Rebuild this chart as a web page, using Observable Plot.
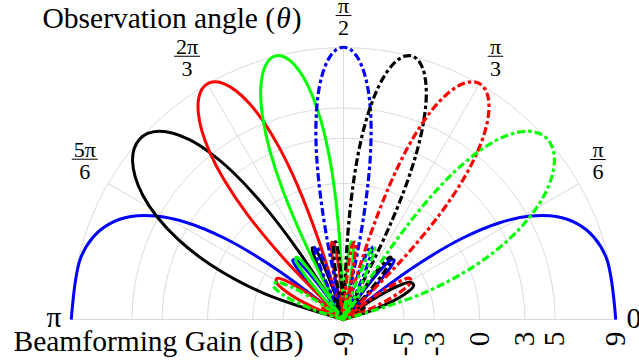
<!DOCTYPE html>
<html><head><meta charset="utf-8">
<script src="https://cdn.jsdelivr.net/npm/d3@7"></script>
<script src="https://cdn.jsdelivr.net/npm/@observablehq/plot@0.6"></script>
<style>
html,body{margin:0;padding:0;background:#fff;}
#chart{width:639px;height:360px;overflow:hidden;}
</style></head><body><div id="chart"></div>
<script>
// Sample positions: cos(theta) from -1 (theta = pi) to 1 (theta = 0)
const cosTheta = [-1,-0.975,-0.95,-0.925,-0.9,-0.875,-0.85,-0.825,-0.8,-0.775,
  -0.75,-0.725,-0.7,-0.675,-0.65,-0.625,-0.6,-0.575,-0.55,-0.525,
  -0.5,-0.475,-0.45,-0.425,-0.4,-0.375,-0.35,-0.325,-0.3,-0.275,
  -0.25,-0.225,-0.2,-0.175,-0.15,-0.125,-0.1,-0.075,-0.05,-0.025,
  0,0.025,0.05,0.075,0.1,0.125,0.15,0.175,0.2,0.225,
  0.25,0.275,0.3,0.325,0.35,0.375,0.4,0.425,0.45,0.475,
  0.5,0.525,0.55,0.575,0.6,0.625,0.65,0.675,0.7,0.725,
  0.75,0.775,0.8,0.825,0.85,0.875,0.9,0.925,0.95,0.975,1];

// Beamforming gain (dB, floor -9) of each beam at the samples above
const gainBlueSolid = [
  9.03, 8.89, 8.46, 7.72, 6.65, 5.16, 3.17, 0.46, -3.45, -9,
  -9, -9, -6.79, -4.65, -3.83, -3.93, -4.85, -6.71, -9, -9,
  -9, -9, -9, -8.77, -7.63, -7.43, -8.08, -9, -9, -9,
  -9, -9, -9, -9, -9, -8.86, -9, -9, -9, -9,
  -9, -9, -9, -9, -9, -8.86, -9, -9, -9, -9,
  -9, -9, -9, -9, -8.08, -7.43, -7.63, -8.77, -9, -9,
  -9, -9, -9, -6.71, -4.85, -3.93, -3.83, -4.65, -6.79, -9,
  -9, -9, -3.45, 0.46, 3.17, 5.16, 6.65, 7.72, 8.46, 8.89,
  9.03];
const gainBlackSolid = [
  -9, -9, -3.45, 0.46, 3.17, 5.16, 6.65, 7.72, 8.46, 8.89,
  9.03, 8.89, 8.46, 7.72, 6.65, 5.16, 3.17, 0.46, -3.45, -9,
  -9, -9, -6.79, -4.65, -3.83, -3.93, -4.85, -6.71, -9, -9,
  -9, -9, -9, -8.77, -7.63, -7.43, -8.08, -9, -9, -9,
  -9, -9, -9, -9, -9, -8.86, -9, -9, -9, -9,
  -9, -9, -9, -9, -9, -8.86, -9, -9, -9, -9,
  -9, -9, -9, -9, -8.08, -7.43, -7.63, -8.77, -9, -9,
  -9, -9, -9, -6.71, -4.85, -3.93, -3.83, -4.65, -6.79, -9,
  -9];
const gainRedSolid = [
  -9, -9, -9, -6.71, -4.85, -3.93, -3.83, -4.65, -6.79, -9,
  -9, -9, -3.45, 0.46, 3.17, 5.16, 6.65, 7.72, 8.46, 8.89,
  9.03, 8.89, 8.46, 7.72, 6.65, 5.16, 3.17, 0.46, -3.45, -9,
  -9, -9, -6.79, -4.65, -3.83, -3.93, -4.85, -6.71, -9, -9,
  -9, -9, -9, -8.77, -7.63, -7.43, -8.08, -9, -9, -9,
  -9, -9, -9, -9, -9, -8.86, -9, -9, -9, -9,
  -9, -9, -9, -9, -9, -8.86, -9, -9, -9, -9,
  -9, -9, -9, -9, -8.08, -7.43, -7.63, -8.77, -9, -9,
  -9];
const gainGreenSolid = [
  -9, -9, -9, -9, -8.08, -7.43, -7.63, -8.77, -9, -9,
  -9, -9, -9, -6.71, -4.85, -3.93, -3.83, -4.65, -6.79, -9,
  -9, -9, -3.45, 0.46, 3.17, 5.16, 6.65, 7.72, 8.46, 8.89,
  9.03, 8.89, 8.46, 7.72, 6.65, 5.16, 3.17, 0.46, -3.45, -9,
  -9, -9, -6.79, -4.65, -3.83, -3.93, -4.85, -6.71, -9, -9,
  -9, -9, -9, -8.77, -7.63, -7.43, -8.08, -9, -9, -9,
  -9, -9, -9, -9, -9, -8.86, -9, -9, -9, -9,
  -9, -9, -9, -9, -9, -8.86, -9, -9, -9, -9,
  -9];
const gainBlueDashed = [
  -9, -9, -9, -9, -9, -8.86, -9, -9, -9, -9,
  -9, -9, -9, -9, -8.08, -7.43, -7.63, -8.77, -9, -9,
  -9, -9, -9, -6.71, -4.85, -3.93, -3.83, -4.65, -6.79, -9,
  -9, -9, -3.45, 0.46, 3.17, 5.16, 6.65, 7.72, 8.46, 8.89,
  9.03, 8.89, 8.46, 7.72, 6.65, 5.16, 3.17, 0.46, -3.45, -9,
  -9, -9, -6.79, -4.65, -3.83, -3.93, -4.85, -6.71, -9, -9,
  -9, -9, -9, -8.77, -7.63, -7.43, -8.08, -9, -9, -9,
  -9, -9, -9, -9, -9, -8.86, -9, -9, -9, -9,
  -9];
const gainBlackDashed = [
  -9, -9, -9, -9, -9, -8.86, -9, -9, -9, -9,
  -9, -9, -9, -9, -9, -8.86, -9, -9, -9, -9,
  -9, -9, -9, -9, -8.08, -7.43, -7.63, -8.77, -9, -9,
  -9, -9, -9, -6.71, -4.85, -3.93, -3.83, -4.65, -6.79, -9,
  -9, -9, -3.45, 0.46, 3.17, 5.16, 6.65, 7.72, 8.46, 8.89,
  9.03, 8.89, 8.46, 7.72, 6.65, 5.16, 3.17, 0.46, -3.45, -9,
  -9, -9, -6.79, -4.65, -3.83, -3.93, -4.85, -6.71, -9, -9,
  -9, -9, -9, -8.77, -7.63, -7.43, -8.08, -9, -9, -9,
  -9];
const gainRedDashed = [
  -9, -9, -9, -8.77, -7.63, -7.43, -8.08, -9, -9, -9,
  -9, -9, -9, -9, -9, -8.86, -9, -9, -9, -9,
  -9, -9, -9, -9, -9, -8.86, -9, -9, -9, -9,
  -9, -9, -9, -9, -8.08, -7.43, -7.63, -8.77, -9, -9,
  -9, -9, -9, -6.71, -4.85, -3.93, -3.83, -4.65, -6.79, -9,
  -9, -9, -3.45, 0.46, 3.17, 5.16, 6.65, 7.72, 8.46, 8.89,
  9.03, 8.89, 8.46, 7.72, 6.65, 5.16, 3.17, 0.46, -3.45, -9,
  -9, -9, -6.79, -4.65, -3.83, -3.93, -4.85, -6.71, -9, -9,
  -9];
const gainGreenDashed = [
  -9, -9, -6.79, -4.65, -3.83, -3.93, -4.85, -6.71, -9, -9,
  -9, -9, -9, -8.77, -7.63, -7.43, -8.08, -9, -9, -9,
  -9, -9, -9, -9, -9, -8.86, -9, -9, -9, -9,
  -9, -9, -9, -9, -9, -8.86, -9, -9, -9, -9,
  -9, -9, -9, -9, -8.08, -7.43, -7.63, -8.77, -9, -9,
  -9, -9, -9, -6.71, -4.85, -3.93, -3.83, -4.65, -6.79, -9,
  -9, -9, -3.45, 0.46, 3.17, 5.16, 6.65, 7.72, 8.46, 8.89,
  9.03, 8.89, 8.46, 7.72, 6.65, 5.16, 3.17, 0.46, -3.45, -9,
  -9];

// Axes
const gainTicks = [-9, -5, -3, 0, 3, 5, 9];
const gainTickLabels = ["-9", "-5", "-3", "0", "3", "5", "9"];
const gainGrid = [-5, -3, 0, 3, 5, 9];
const angleTicks = [0, 30, 60, 90, 120, 150, 180];
const fracAngles = [30, 60, 90, 120, 150];
const fracNumerators = ["π", "π", "π", "2π", "5π"];
const fracDenominators = ["6", "3", "2", "3", "6"];
const titleParts = ["Observation angle (", "θ", ")"];
const gainLabelText = "Beamforming Gain (dB)";

const G0 = -9; // gain at the pole
const DEG = Math.PI / 180;
const rad = g => g - G0;
const px = (c, g) => rad(g) * c;
const py = (c, g) => rad(g) * Math.sqrt(Math.max(0, 1 - c * c));

const DASH = "8,3,3.5,3";
const beams = [
  {gain: gainBlueSolid, color: "#0000ff", dash: null},
  {gain: gainBlackSolid, color: "#000000", dash: null},
  {gain: gainRedSolid, color: "#ff0000", dash: null},
  {gain: gainGreenSolid, color: "#00ff00", dash: null},
  {gain: gainBlueDashed, color: "#0000ff", dash: DASH},
  {gain: gainBlackDashed, color: "#000000", dash: DASH},
  {gain: gainRedDashed, color: "#ff0000", dash: DASH},
  {gain: gainGreenDashed, color: "#00ff00", dash: DASH}
];

const gridArcs = gainGrid.flatMap(g => d3.range(0, 180.5, 1).map(a => ({g, a})));
const R_OUT = rad(9);
const R_LABEL = 20.13;
function labelXY(a) {
  let x = R_LABEL * Math.cos(a * DEG), y = R_LABEL * Math.sin(a * DEG);
  if (a === 30) { x -= 0.58; y += 0.53; }
  if (a === 150) { x += 0.3; y += 0.55; }
  if (a === 120) { x -= 0.3; }
  return [x, y];
}
const fracData = fracAngles.map((a, i) => ({a, num: fracNumerators[i], den: fracDenominators[i], xy: labelXY(a)}));

const FONT = "'Liberation Serif', 'Times New Roman', serif";
const FS = 29.5;
// measure title pieces so the italic theta can be placed inline
const ctx = document.createElement("canvas").getContext("2d");
ctx.font = `${FS}px 'Liberation Serif'`;
const w0 = ctx.measureText(titleParts[0]).width;
ctx.font = `italic ${FS}px 'Liberation Serif'`;
const w1 = ctx.measureText(titleParts[1]).width;
const TX = 42, TY = 27;

const marks = [
  // grid arcs
  Plot.line(gridArcs, {x: d => rad(d.g) * Math.cos(d.a * DEG), y: d => rad(d.g) * Math.sin(d.a * DEG), z: "g", stroke: "#dadada", strokeWidth: 1}),
  // spokes
  Plot.link(angleTicks, {x1: 0, y1: 0, x2: a => R_OUT * Math.cos(a * DEG), y2: a => R_OUT * Math.sin(a * DEG), stroke: "#dadada", strokeWidth: 1}),
  // beams
  ...beams.map(b => Plot.line(cosTheta.map((c, i) => ({c, g: b.gain[i]})), {
    x: d => px(d.c, d.g), y: d => py(d.c, d.g),
    stroke: b.color, strokeWidth: b.dash ? 3.2 : 3, curve: "catmull-rom",
    strokeDasharray: b.dash, strokeLinejoin: "round", strokeLinecap: "butt"
  })),
  // radial tick labels
  Plot.text(gainTicks, {x: g => rad(g), y: -0.8, text: (g, i) => gainTickLabels[i], rotate: -90, textAnchor: "end", lineAnchor: "middle", fontSize: FS, fill: "#000"}),
  // angle labels 0 and pi
  Plot.text(["π"], {x: -18.68, y: -0.5, text: d => d, textAnchor: "end", lineAnchor: "bottom", fontSize: FS}),
  Plot.text(["0"], {x: 18.74, y: -0.53, text: d => d, textAnchor: "start", lineAnchor: "bottom", fontSize: FS}),
  // fraction labels
  Plot.text(fracData, {x: d => d.xy[0], y: d => d.xy[1], text: "num", dy: -2.5, lineAnchor: "bottom", textAnchor: "middle", fontSize: 22}),
  Plot.text(fracData, {x: d => d.xy[0], y: d => d.xy[1], text: "den", dy: 19.5, lineAnchor: "bottom", textAnchor: "middle", fontSize: 22}),
  Plot.link(fracData, {x1: d => d.xy[0] - (d.num.length > 1 ? 0.86 : 0.52), x2: d => d.xy[0] + (d.num.length > 1 ? 0.86 : 0.52), y1: d => d.xy[1], y2: d => d.xy[1], stroke: "#000", strokeWidth: 1}),
  // titles
  Plot.text([titleParts[0]], {frameAnchor: "top-left", dx: TX, dy: TY, text: d => d, textAnchor: "start", lineAnchor: "bottom", fontSize: FS}),
  Plot.text([titleParts[1]], {frameAnchor: "top-left", dx: TX + w0 + 1, dy: TY, text: d => d, textAnchor: "start", lineAnchor: "bottom", fontSize: FS, fontStyle: "italic"}),
  Plot.text([titleParts[2]], {frameAnchor: "top-left", dx: TX + w0 + w1 + 2, dy: TY, text: d => d, textAnchor: "start", lineAnchor: "bottom", fontSize: FS}),
  Plot.text([gainLabelText], {frameAnchor: "top-left", dx: 13, dy: 350, text: d => d, textAnchor: "start", lineAnchor: "bottom", fontSize: FS})
];

const chart = Plot.plot({
  width: 639, height: 360,
  marginTop: 0, marginRight: 0, marginBottom: 0, marginLeft: 0,
  x: {domain: [-22.715, 19.603], axis: null},
  y: {domain: [-2.715, 21.126], axis: null},
  style: {fontFamily: FONT, background: "#fff", color: "#000", overflow: "visible"},
  marks
});
document.getElementById("chart").appendChild(chart);
</script>
</body></html>
